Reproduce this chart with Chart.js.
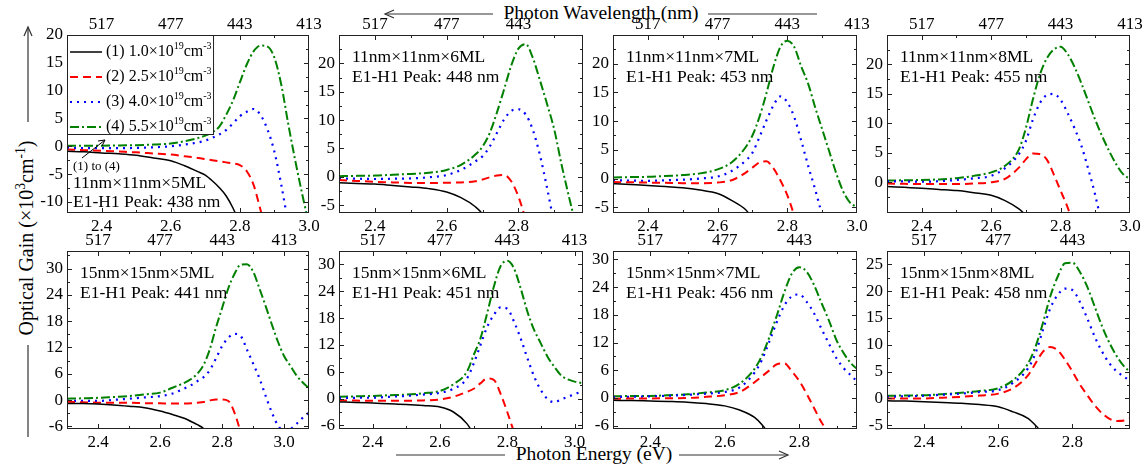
<!DOCTYPE html>
<html>
<head>
<meta charset="utf-8">
<script src="https://cdn.jsdelivr.net/npm/chart.js@4.4.1/dist/chart.umd.min.js"></script>
<style>
  body { margin: 0; background: #fff; }
  #wrap { position: relative; width: 1146px; height: 470px; overflow: hidden;
          font-family: 'Liberation Serif', 'Times New Roman', serif; color: #000; }
  #wrap canvas { position: absolute; }
  .title { position: absolute; font-size: 19.5px; white-space: nowrap; transform: translate(-50%, -50%); }
  #ytitle { font-size: 20px; transform: translate(-50%, -50%) rotate(-90deg); }
  sup { font-size: 0.68em; line-height: 0; vertical-align: 0.55em; }
  svg { position: absolute; left: 0; top: 0; }
</style>
</head>
<body>
<div id="wrap">
  <svg width="1146" height="470">
    <g stroke="#333" stroke-width="1.2" fill="none">
      <line x1="385" y1="14" x2="493" y2="14"/><polyline points="394,10 385,14 394,18"/>
      <line x1="708" y1="14" x2="817" y2="14"/>
      <line x1="396" y1="455" x2="505" y2="455"/>
      <line x1="679" y1="455" x2="788" y2="455"/><polyline points="779,451 788,455 779,459"/>
      <line x1="28" y1="27" x2="28" y2="122"/><polyline points="24,36 28,27 32,36"/>
      <line x1="28" y1="345" x2="28" y2="437"/>
    </g>
  </svg>
  <div class="title" style="left:601px; top:13px">Photon Wavelength (nm)</div>
  <div class="title" style="left:594px; top:454px">Photon Energy (eV)</div>
  <div class="title" id="ytitle" style="left:26px; top:238px">Optical Gain (×10<sup>3</sup>cm<sup>-1</sup>)</div>
</div>
<script>
// photon energy grid (eV)
const energy = [2.30, 2.35, 2.40, 2.45, 2.50, 2.55, 2.60, 2.64, 2.68, 2.70, 2.72, 2.74, 2.76, 2.78, 2.80,
                2.82, 2.84, 2.86, 2.88, 2.90, 2.92, 2.94, 2.96, 2.98, 3.00, 3.02, 3.04, 3.06, 3.08];

// 11nm x 11nm, 5/6/7/8 ML   (series 1..4 = 1.0, 2.5, 4.0, 5.5 x10^19 cm^-3)
const g11x5_1 = [-0.9, -1.0, -1.2, -1.35, -1.6, -2.1, -2.6, -3.5, -4.6, -5.2, -6.2, -7.4, -8.9, -11.1, -14, -18];
const g11x5_2 = [-0.6, -0.7, -0.8, -0.95, -1.1, -1.3, -1.5, -1.8, -2.1, -2.3, -2.5, -2.7, -2.9, -3.1, -3.4, -4.5, -7.0, -11.5, -16];
const g11x5_3 = [-0.3, -0.35, -0.35, -0.35, -0.3, -0.2, 0, 0.3, 0.7, 1.0, 1.5, 2.1, 2.9, 4.1, 5.4, 6.2, 6.7, 5.6, 3.0, -1.0, -7.0, -14];
const g11x5_4 = [0.1, 0.1, 0.1, 0.15, 0.2, 0.3, 0.5, 0.9, 1.5, 1.9, 2.5, 3.5, 5.6, 8.2, 11.5, 14.7, 17.1, 18.1, 17.9, 15.9, 11.0, 4.0, -2.5, -8.5, -14, -19];

const g11x6_1 = [-1.07, -1.2, -1.3, -1.55, -1.8, -2.1, -2.7, -3.7, -5.3, -6.6, -9, -12];
const g11x6_2 = [-0.6, -0.75, -0.9, -1.0, -1.1, -1.1, -1.07, -1.0, -0.8, -0.5, -0.1, 0.2, 0.3, -0.8, -3.5, -7.5, -12];
const g11x6_3 = [-0.3, -0.35, -0.4, -0.35, -0.3, -0.1, 0.3, 1.2, 2.7, 3.6, 5.3, 7.7, 10.1, 11.6, 11.9, 11.0, 8.3, 3.8, -2.0, -8.5, -15];
const g11x6_4 = [0.1, 0.15, 0.2, 0.35, 0.5, 0.7, 1.2, 2.1, 3.9, 5.3, 7.7, 11.3, 15.4, 19.6, 22.6, 23.4, 21.0, 17.0, 12.8, 8.3, 2.2, -3.3, -8.5, -14];

const g11x7_1 = [-0.9, -1.05, -1.2, -1.4, -1.6, -2.0, -2.6, -3.8, -5.4, -7.0, -9.2, -12];
const g11x7_2 = [-0.6, -0.65, -0.7, -0.75, -0.8, -0.8, -0.7, -0.3, 1.0, 1.9, 2.8, 3.0, 1.8, -0.3, -2.9, -6.5, -11];
const g11x7_3 = [-0.3, -0.35, -0.4, -0.3, -0.2, 0, 0.35, 1.3, 3.1, 4.5, 7.2, 10.1, 12.7, 14.3, 13.3, 10.7, 6.6, 2.2, -1.9, -6.5, -12];
const g11x7_4 = [0.2, 0.25, 0.3, 0.45, 0.6, 0.9, 1.6, 2.8, 5.4, 7.5, 10.7, 14.8, 19.4, 22.9, 24.0, 22.9, 19.5, 16.5, 12.4, 8.6, 4.8, 1.0, -2.2, -4.2, -5.0, -6.0];

const g11x8_1 = [-0.7, -0.85, -1.0, -1.2, -1.4, -1.75, -2.2, -3.1, -4.5, -5.6, -7, -9];
const g11x8_2 = [-0.2, -0.25, -0.3, -0.3, -0.3, -0.2, 0, 0.6, 2.5, 3.9, 4.9, 4.8, 3.9, 1.4, -1.4, -4.2, -7.5];
const g11x8_3 = [0.2, 0.15, 0.1, 0.2, 0.4, 0.7, 1.1, 2.4, 4.8, 7.0, 10.6, 13.4, 14.8, 15.0, 14.0, 11.8, 9.2, 6.2, 2.2, -2.2, -7.5];
const g11x8_4 = [0.3, 0.35, 0.4, 0.5, 0.7, 1.1, 1.7, 2.8, 5.6, 9.2, 14.0, 18.2, 21.0, 22.5, 23.0, 21.8, 19.6, 16.8, 13.7, 10.6, 7.8, 5.3, 3.1, 1.4, 0.6, 0.0];

// 15nm x 15nm, 5/6/7/8 ML
const g15x5_1 = [-0.76, -0.8, -0.9, -1.1, -1.4, -1.75, -2.5, -3.3, -4.2, -4.9, -5.6, -6.5, -8.5, -11];
const g15x5_2 = [-0.4, -0.5, -0.6, -0.6, -0.6, -0.7, -0.75, -0.8, -0.8, -0.75, -0.6, -0.45, -0.1, 0.15, 0.15, -0.2, -2.9, -7.5, -13];
const g15x5_3 = [-0.2, -0.2, -0.2, 0.05, 0.3, 0.6, 0.9, 1.5, 2.7, 3.4, 4.3, 5.2, 6.8, 9.5, 12.3, 14.2, 15.1, 14.6, 11.5, 8.3, 5.0, 1.0, -2.8, -5.8, -7.0, -6.6, -5.4, -4.0, -2.8];
const g15x5_4 = [0.3, 0.4, 0.5, 0.7, 0.9, 1.3, 1.7, 2.8, 4.0, 4.8, 6.0, 8.0, 11.5, 16.5, 21.0, 25.5, 28.8, 30.9, 31.0, 29.3, 25.5, 21.5, 17.3, 13.3, 10.0, 7.8, 5.6, 4.0, 2.7];

const g15x6_1 = [-0.75, -0.85, -1.0, -1.15, -1.3, -1.55, -1.9, -3.0, -5.6, -8, -11];
const g15x6_2 = [-0.4, -0.45, -0.5, -0.5, -0.5, -0.4, -0.2, 0.4, 1.5, 2.2, 3.4, 4.5, 4.2, 1.1, -3.0, -7.5, -12];
const g15x6_3 = [0.15, 0.18, 0.2, 0.4, 0.6, 0.9, 1.3, 2.2, 4.5, 7.8, 11.9, 16.0, 18.7, 20.4, 20.1, 17.2, 13.4, 9.0, 4.9, 1.9, -0.15, -0.8, -0.2, 0.4, 1.0, 1.5, 1.8];
const g15x6_4 = [0.4, 0.5, 0.6, 0.75, 0.9, 1.2, 1.7, 3.2, 6.0, 9.7, 13.4, 19.0, 25.0, 29.6, 30.8, 29.1, 24.6, 19.4, 15.3, 12.3, 9.3, 7.1, 5.2, 4.3, 3.8, 3.5, 3.3];

const g15x7_1 = [-0.5, -0.55, -0.65, -0.75, -0.9, -1.2, -1.7, -2.6, -4.2, -5.8, -8, -11];
const g15x7_2 = [-0.15, -0.12, -0.1, -0.05, 0, 0.25, 0.6, 1.3, 3.4, 4.7, 6.0, 7.3, 7.5, 5.8, 3.7, 0.9, -2.2, -5.3, -7.3, -8.2, -8.3, -7.3, -6.4];
const g15x7_3 = [0.2, 0.28, 0.35, 0.5, 0.7, 0.95, 1.3, 2.3, 5.5, 8.3, 12.3, 16.5, 20.0, 22.0, 22.4, 20.8, 18.3, 14.9, 11.7, 8.6, 6.4, 4.8, 3.2];
const g15x7_4 = [0.4, 0.42, 0.45, 0.6, 0.8, 1.2, 1.7, 3.1, 6.3, 9.2, 13.2, 17.9, 22.9, 26.9, 28.3, 27.3, 24.4, 20.5, 16.7, 12.5, 9.6, 7.4, 6.0];

const g15x8_1 = [-0.45, -0.5, -0.6, -0.75, -0.9, -1.15, -1.55, -2.5, -3.7, -5.0, -6.6, -9];
const g15x8_2 = [0, 0, 0, 0.15, 0.3, 0.55, 0.9, 1.9, 4.3, 6.5, 8.7, 9.6, 9.0, 7.2, 5.0, 2.6, 0.6, -1.3, -2.8, -3.8, -4.2, -4.1, -3.6];
const g15x8_3 = [0.3, 0.4, 0.5, 0.7, 0.9, 1.2, 1.55, 2.9, 5.6, 8.4, 12.7, 16.8, 19.3, 20.5, 20.2, 18.0, 14.9, 11.5, 8.7, 6.5, 5.0, 4.0, 3.1];
const g15x8_4 = [0.5, 0.55, 0.6, 0.8, 1.05, 1.4, 1.9, 3.4, 6.5, 9.6, 14.0, 19.0, 22.7, 25.2, 25.3, 23.6, 20.8, 17.1, 13.4, 10.3, 7.8, 5.9, 4.7];

const densities = ['1.0', '2.5', '4.0', '5.5'];
const dotSizes = ['11nm×11nm×5ML', '11nm×11nm×6ML', '11nm×11nm×7ML', '11nm×11nm×8ML',
                  '15nm×15nm×5ML', '15nm×15nm×6ML', '15nm×15nm×7ML', '15nm×15nm×8ML'];
const peakNm = [438, 448, 453, 455, 441, 451, 456, 458];

const energyTicks = [2.4, 2.6, 2.8, 3.0];
const wavelengthLabels = ['517', '477', '443', '413'];
const xMax = [3.0, 2.98, 3.0, 3.0, 3.08, 3.025, 2.955, 2.955];
const yMin = [-12, -6.4, -6, -5.2, -6.6, -6.8, -6.7, -5.7];
const yMax = [20, 25, 25, 25, 34, 33, 31.8, 27.5];
const yTicks = [
  [-10, -5, 0, 5, 10, 15, 20], [-5, 0, 5, 10, 15, 20], [-5, 0, 5, 10, 15, 20], [0, 5, 10, 15, 20],
  [-6, 0, 6, 12, 18, 24, 30], [-6, 0, 6, 12, 18, 24, 30], [-6, 0, 6, 12, 18, 24, 30], [-5, 0, 5, 10, 15, 20, 25]
];
const panelSeries = [
  [g11x5_1, g11x5_2, g11x5_3, g11x5_4], [g11x6_1, g11x6_2, g11x6_3, g11x6_4],
  [g11x7_1, g11x7_2, g11x7_3, g11x7_4], [g11x8_1, g11x8_2, g11x8_3, g11x8_4],
  [g15x5_1, g15x5_2, g15x5_3, g15x5_4], [g15x6_1, g15x6_2, g15x6_3, g15x6_4],
  [g15x7_1, g15x7_2, g15x7_3, g15x7_4], [g15x8_1, g15x8_2, g15x8_3, g15x8_4]
];

/* look */
const serif = "'Liberation Serif', 'Times New Roman', serif";
const lineColor = ['#000000', '#ff0000', '#0000ff', '#008000'];
const lineDash = [[], [8, 5], [2, 5], [9, 3, 2, 3]];
const lineWidth = [1.5, 2, 2.2, 2];

// plot boxes on the page
const plotLeft = [67, 339, 613, 887];
const plotWidth = [242, 244, 244, 243];
const plotTop = [35, 251];
const plotHeight = 178;
const PL = 44, PT = 26, PR = 18, PB = 28;

function drawRich(ctx, parts, x, y, size) {
  let cx = x;
  parts.forEach(function(p) {
    const s = p[1] ? Math.round(size * 0.64) : size;
    ctx.font = s + 'px ' + serif;
    ctx.fillText(p[0], cx, p[1] ? y - size * 0.36 : y);
    cx += ctx.measureText(p[0]).width;
  });
  return cx;
}

/* frame + inward ticks */
const framePlugin = {
  id: 'frame',
  afterDatasetsDraw(chart) {
    const ctx = chart.ctx, a = chart.chartArea;
    const xs = chart.scales.x, ys = chart.scales.y;
    const yt = chart.options.plugins.frame.yTicks;
    ctx.save();
    ctx.strokeStyle = '#222';
    ctx.lineWidth = 1;
    ctx.strokeRect(a.left + 0.5, a.top + 0.5, a.right - a.left - 1, a.bottom - a.top - 1);
    ctx.beginPath();
    for (let k = 0; 2.3 + k * 0.1 <= xs.max + 1e-6; k++) {
      const v = 2.3 + k * 0.1;
      const major = energyTicks.some(t => Math.abs(t - v) < 1e-6);
      const px = Math.round(xs.getPixelForValue(v)) + 0.5;
      if (px < a.left + 2 || px > a.right - 2) continue;
      const len = major ? 5 : 3;
      ctx.moveTo(px, a.bottom); ctx.lineTo(px, a.bottom - len);
      ctx.moveTo(px, a.top); ctx.lineTo(px, a.top + len);
    }
    const step = (yt[1] - yt[0]) / 2;
    for (let v = Math.ceil(ys.min / step) * step; v <= ys.max + 1e-6; v += step) {
      const major = yt.some(t => Math.abs(t - v) < 1e-6);
      const py = Math.round(ys.getPixelForValue(v)) + 0.5;
      if (py < a.top + 2 || py > a.bottom - 2) continue;
      const len = major ? 5 : 3;
      ctx.moveTo(a.left, py); ctx.lineTo(a.left + len, py);
      ctx.moveTo(a.right, py); ctx.lineTo(a.right - len, py);
    }
    ctx.stroke();
    ctx.restore();
  }
};

/* sample names, legend on first panel */
const notesPlugin = {
  id: 'notes',
  afterDraw(chart) {
    const o = chart.options.plugins.notes;
    const ctx = chart.ctx, a = chart.chartArea;
    ctx.save();
    ctx.fillStyle = '#000';
    ctx.textBaseline = 'middle';
    ctx.textAlign = 'left';
    ctx.font = '17.5px ' + serif;
    if (o.index === 0) {
      ctx.fillText(dotSizes[0], a.left + 6, a.top + 148);
      ctx.fillText('E1-H1 Peak: ' + peakNm[0] + ' nm', a.left + 6, a.top + 167);
      ctx.font = '13px ' + serif;
      ctx.fillText('(1) to (4)', a.left + 6, a.top + 132);
      // pointer arrow
      ctx.strokeStyle = '#000';
      ctx.lineWidth = 1;
      ctx.beginPath();
      ctx.moveTo(a.left + 15, a.top + 123); ctx.lineTo(a.left + 38, a.top + 105);
      ctx.moveTo(a.left + 38, a.top + 105); ctx.lineTo(a.left + 31, a.top + 106);
      ctx.moveTo(a.left + 38, a.top + 105); ctx.lineTo(a.left + 35, a.top + 111);
      ctx.stroke();
      // legend box, sized to its text
      ctx.font = '16px ' + serif;
      const boxW = Math.max(143, 44 + ctx.measureText('(1) ' + densities[0] + '×10cm').width + 2 * 10 * 0.64 * 1.0 + 2);
      ctx.fillStyle = '#fff';
      ctx.fillRect(a.left, a.top, boxW, 99);
      ctx.strokeStyle = '#222';
      ctx.strokeRect(a.left + 0.5, a.top + 0.5, boxW, 99);
      chart.data.datasets.forEach(function(ds, k) {
        const y = a.top + 17 + 25 * k;
        ctx.strokeStyle = ds.borderColor;
        ctx.lineWidth = ds.borderWidth;
        ctx.setLineDash(ds.borderDash);
        ctx.beginPath();
        ctx.moveTo(a.left + 3, y); ctx.lineTo(a.left + 35, y);
        ctx.stroke();
        ctx.setLineDash([]);
        ctx.fillStyle = '#000';
        drawRich(ctx, [['(' + (k + 1) + ') ' + densities[k] + '×10', false], ['19', true], ['cm', false], ['-3', true]],
                 a.left + 39, y, 16);
      });
    } else {
      ctx.fillText(dotSizes[o.index], a.left + 13, a.top + 22);
      ctx.fillText('E1-H1 Peak: ' + peakNm[o.index] + ' nm', a.left + 13, a.top + 42);
    }
    ctx.restore();
  }
};

const wrap = document.getElementById('wrap');

panelSeries.forEach(function(series, i) {
  const col = i % 4, row = Math.floor(i / 4);
  const canvas = document.createElement('canvas');
  const w = plotWidth[col] + PL + PR, h = plotHeight + PT + PB;
  canvas.width = w; canvas.height = h;
  canvas.style.left = (plotLeft[col] - PL) + 'px';
  canvas.style.top = (plotTop[row] - PT) + 'px';
  canvas.style.width = w + 'px'; canvas.style.height = h + 'px';
  wrap.appendChild(canvas);

  const tickFont = { family: serif, size: 17 };
  const energyAxis = function(pos) {
    return {
      type: 'linear', position: pos, min: 2.3, max: xMax[i],
      afterBuildTicks: ax => { ax.ticks = energyTicks.filter(v => v <= xMax[i] + 1e-6).map(v => ({ value: v })); },
      afterFit: ax => { ax.height = pos === 'top' ? PT : PB; },
      grid: { display: false, drawTicks: false },
      border: { display: false },
      ticks: {
        font: tickFont, color: '#000', padding: pos === 'top' ? 0 : 3, maxRotation: 0, autoSkip: false,
        callback: v => pos === 'top'
          ? wavelengthLabels[energyTicks.findIndex(t => Math.abs(t - v) < 1e-6)]
          : v.toFixed(1)
      }
    };
  };

  new Chart(canvas, {
    type: 'line',
    data: {
      datasets: series.map((vals, k) => ({
        label: '(' + (k + 1) + ') ' + densities[k],
        data: vals.map((v, j) => ({ x: energy[j], y: v })),
        borderColor: lineColor[k],
        borderDash: lineDash[k],
        borderWidth: lineWidth[k],
        pointRadius: 0,
        fill: false,
        cubicInterpolationMode: 'monotone',
        clip: 0
      }))
    },
    options: {
      responsive: false,
      animation: false,
      events: [],
      layout: { padding: { left: 0, top: 0, right: PR, bottom: 0 } },
      plugins: {
        legend: { display: false },
        tooltip: { enabled: false },
        frame: { yTicks: yTicks[i] },
        notes: { index: i }
      },
      scales: {
        x: energyAxis('bottom'),
        x2: energyAxis('top'),
        y: {
          type: 'linear', min: yMin[i], max: yMax[i],
          afterBuildTicks: ax => { ax.ticks = yTicks[i].map(v => ({ value: v })); },
          afterFit: ax => { ax.width = PL; },
          grid: { display: false, drawTicks: false },
          border: { display: false },
          ticks: { font: tickFont, color: '#000', padding: 4, callback: v => String(v) }
        }
      }
    },
    plugins: [framePlugin, notesPlugin]
  });
});
</script>
</body>
</html>
